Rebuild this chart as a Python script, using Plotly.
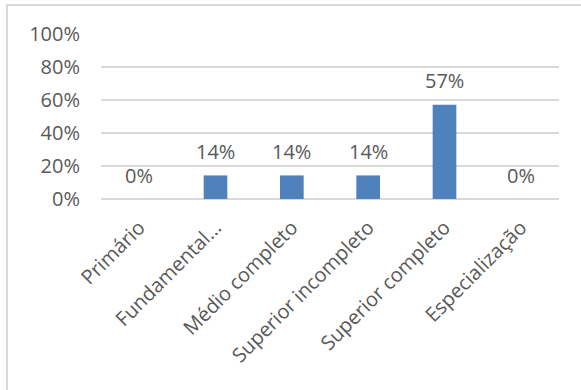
import plotly.graph_objects as go

categories = ["Primário", "Fundamental...", "Médio completo", "Superior incompleto",
              "Superior completo", "Especialização"]
values = [0.0, 0.143, 0.143, 0.143, 0.571, 0.0]
y_ticks = [0, 0.2, 0.4, 0.6, 0.8, 1.0]
y_tick_labels = ["0%", "20%", "40%", "60%", "80%", "100%"]

FONT = "Open Sans"
TXT = "#595959"
GRID = "#D9D9D9"
FS = 20

fig = go.Figure()
fig.add_trace(go.Bar(
    x=categories, y=values,
    marker=dict(color="#4F81BD", line=dict(width=0)),
    hoverinfo="skip",
))

for c, v in zip(categories, values):
    fig.add_annotation(
        x=c, y=v, xref="x", yref="y",
        text=f"{v:.0%}", showarrow=False,
        yanchor="middle", yshift=24,
        font=dict(family=FONT, size=FS, color=TXT),
    )

W, H = 581, 390
L, T = 101, 34
R = W - 559
B = H - 199
pw, ph = W - L - R, H - T - B

def px_x(p):
    return (p - L) / pw

def px_y(p):
    return (H - B - p) / ph

fig.add_shape(type="rect", xref="paper", yref="paper",
              x0=px_x(7), x1=px_x(600), y0=px_y(5), y1=px_y(420),
              line=dict(color=GRID, width=2), fillcolor="rgba(0,0,0,0)", layer="below")

fig.update_layout(
    width=W, height=H,
    margin=dict(l=L, r=R, t=T, b=B, pad=0, autoexpand=False),
    paper_bgcolor="white", plot_bgcolor="white",
    bargap=0.69,
    showlegend=False,
    font=dict(family=FONT, size=FS, color=TXT),
    xaxis=dict(
        tickangle=-45, showgrid=False, showline=False, ticks="",
        tickfont=dict(family=FONT, size=FS, color=TXT),
        ticklabelstandoff=12, fixedrange=True, automargin=False,
    ),
    yaxis=dict(
        range=[0, 1], tickvals=y_ticks, ticktext=y_tick_labels,
        showgrid=True, gridcolor=GRID, gridwidth=1.5,
        zeroline=True, zerolinecolor=GRID, zerolinewidth=1.5,
        showline=False, ticks="",
        tickfont=dict(family=FONT, size=FS, color=TXT),
        ticklabelstandoff=20, fixedrange=True, automargin=False,
    ),
)

fig.write_html("out.html", config={"displayModeBar": False},
               post_script="document.body.style.margin='0';")
